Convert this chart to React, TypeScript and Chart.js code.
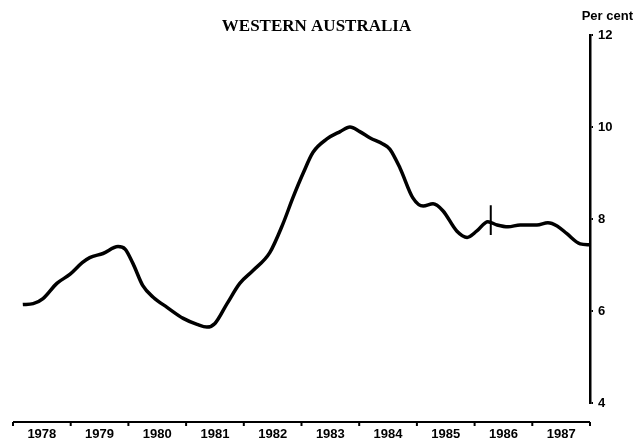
import React, { useEffect, useRef } from "react";
import { Chart, registerables } from "chart.js";

Chart.register(...registerables);

// Year labels (each label sits in the middle of its year)
const yearLabels = ["1978", "1979", "1980", "1981", "1982", "1983", "1984", "1985", "1986", "1987"];
const yearStart = 1978;
const yearEnd = 1988;

// Right-axis ticks (per cent)
const yTicks = [4, 6, 8, 10, 12];

// Series: time (decimal years) and rate (per cent)
const timeX = [
  1978.17, 1978.35, 1978.52, 1978.76, 1978.99, 1979.2, 1979.33, 1979.56, 1979.82, 1979.94,
  1980.08, 1980.25, 1980.43, 1980.67, 1980.95, 1981.19, 1981.36, 1981.5, 1981.71, 1981.93,
  1982.16, 1982.45, 1982.68, 1982.85, 1983.03, 1983.2, 1983.44, 1983.67, 1983.84, 1984.01,
  1984.19, 1984.41, 1984.53, 1984.71, 1984.93, 1985.11, 1985.28, 1985.45, 1985.69, 1985.87,
  1986.04, 1986.23, 1986.39, 1986.58, 1986.79, 1987.08, 1987.27, 1987.43, 1987.6, 1987.83, 1988.0,
];
const rateY = [
  6.14, 6.16, 6.27, 6.6, 6.8, 7.05, 7.16, 7.25, 7.4, 7.35,
  7.03, 6.55, 6.3, 6.08, 5.84, 5.71, 5.65, 5.73, 6.16, 6.6,
  6.88, 7.27, 7.9, 8.46, 9.0, 9.45, 9.74, 9.9, 10.0, 9.9,
  9.76, 9.63, 9.52, 9.1, 8.46, 8.28, 8.33, 8.18, 7.74, 7.6,
  7.74, 7.94, 7.87, 7.83, 7.87, 7.87, 7.92, 7.85, 7.68, 7.46, 7.44,
];

// Vertical break marker
const markerX = [1986.28, 1986.28];
const markerY = [8.3, 7.65];

const TITLE = "WESTERN AUSTRALIA";
const UNIT = "Per cent";

const bottomAxisPlugin = {
  id: "bottomAxis",
  afterDraw(chart: any) {
    const { ctx, chartArea, scales } = chart;
    const xs = scales.x;
    const yLine = chartArea.bottom + 19;
    const x0 = xs.getPixelForValue(yearStart);
    const x1 = xs.getPixelForValue(yearEnd);
    ctx.save();
    ctx.strokeStyle = "#000";
    ctx.lineWidth = 2;
    ctx.beginPath();
    ctx.moveTo(x0, yLine);
    ctx.lineTo(x1, yLine);
    ctx.stroke();
    for (let yr = yearStart; yr <= yearEnd; yr++) {
      const px = xs.getPixelForValue(yr);
      ctx.beginPath();
      ctx.moveTo(px, yLine);
      ctx.lineTo(px, yLine + 4);
      ctx.stroke();
    }
    ctx.restore();
  },
};

export default function App() {
  const ref = useRef<HTMLCanvasElement | null>(null);

  useEffect(() => {
    if (!ref.current) return;
    const chart = new Chart(ref.current, {
      type: "line",
      data: {
        datasets: [
          {
            data: timeX.map((x, i) => ({ x, y: rateY[i] })),
            xAxisID: "x",
            yAxisID: "y",
            borderColor: "#000",
            borderWidth: 3.5,
            pointRadius: 0,
            cubicInterpolationMode: "monotone",
            fill: false,
          },
          {
            data: markerX.map((x, i) => ({ x, y: markerY[i] })),
            xAxisID: "x",
            yAxisID: "y",
            borderColor: "#000",
            borderWidth: 2,
            pointRadius: 0,
            fill: false,
          },
        ],
      },
      plugins: [bottomAxisPlugin],
      options: {
        responsive: false,
        animation: false,
        devicePixelRatio: 1,
        layout: { padding: { left: 0, right: 0, top: 0, bottom: 0 } },
        plugins: {
          legend: { display: false },
          tooltip: { enabled: false },
          title: {
            display: true,
            text: UNIT,
            align: "end",
            color: "#000",
            font: { family: "Liberation Sans", size: 13, weight: "bold", lineHeight: 1 },
            padding: { top: 10, bottom: 0 },
          },
          subtitle: {
            display: true,
            text: TITLE,
            align: "center",
            color: "#000",
            font: { family: "Liberation Serif", size: 17, weight: "bold", lineHeight: 1 },
            padding: { top: -5, bottom: 0 },
          },
        },
        scales: {
          x: {
            type: "linear",
            min: yearStart,
            max: yearEnd,
            afterBuildTicks: (scale: any) => {
              scale.ticks = yearLabels.map((_, i) => ({ value: yearStart + i + 0.5 }));
            },
            afterFit: (scale: any) => {
              scale.height = 40;
            },
            grid: { display: false, drawTicks: false },
            border: { display: false },
            ticks: {
              autoSkip: false,
              maxRotation: 0,
              padding: 24,
              color: "#000",
              font: { family: "Liberation Sans", size: 13, weight: "bold" },
              callback: (_v: any, i: number) => yearLabels[i],
            },
          },
          y: {
            type: "linear",
            position: "right",
            min: 4,
            max: 12,
            afterBuildTicks: (scale: any) => {
              scale.ticks = yTicks.map((v) => ({ value: v }));
            },
            afterFit: (scale: any) => {
              scale.width = 43;
            },
            grid: { display: true, drawOnChartArea: false, drawTicks: true, tickLength: 3, color: "#000", lineWidth: 2 },
            border: { display: true, color: "#000", width: 2.5 },
            ticks: {
              padding: 5,
              color: "#000",
              font: { family: "Liberation Sans", size: 13, weight: "bold" },
              callback: (v: any) => String(v),
            },
          },
          yl: {
            type: "linear",
            position: "left",
            display: true,
            min: 4,
            max: 12,
            grid: { display: false, drawTicks: false },
            border: { display: false },
            ticks: { display: false },
            afterFit: (scale: any) => {
              scale.width = 13;
            },
          },
        },
      },
    } as any);
    return () => chart.destroy();
  }, []);

  return (
    <div style={{ position: "absolute", left: 0, top: 0, width: 633, height: 443, background: "#fff" }}>
      <canvas ref={ref} width={633} height={443} style={{ display: "block" }} />
    </div>
  );
}
